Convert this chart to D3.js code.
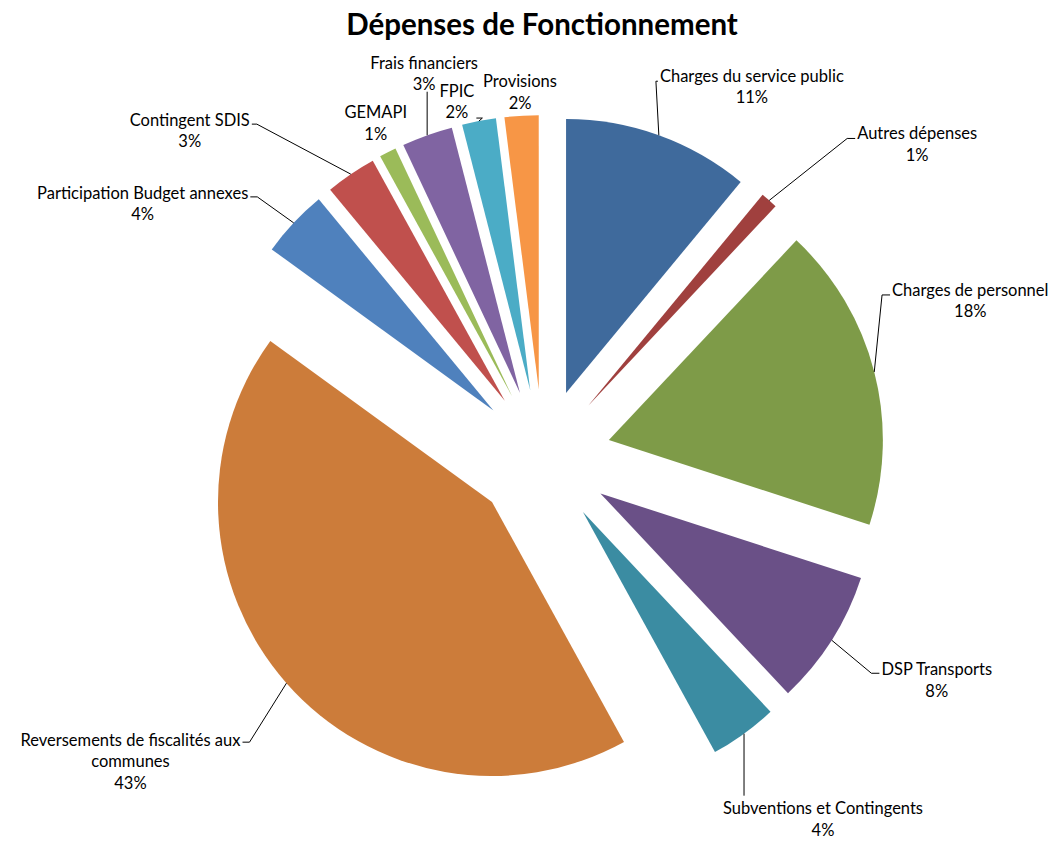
<!DOCTYPE html>
<html>
<head>
<meta charset="utf-8">
<script src="https://cdn.jsdelivr.net/npm/d3@7"></script>
<style>
  body { margin: 0; background: #ffffff; }
  svg { display: block; }
  text { font-family: Lato, "Liberation Sans", sans-serif; fill: #000; }
</style>
</head>
<body>
<svg id="chart" width="1052" height="841"></svg>
<script>
// Budget de fonctionnement : répartition des dépenses (en %)
const categories = [
  "Charges du service public",
  "Autres dépenses",
  "Charges de personnel",
  "DSP Transports",
  "Subventions et Contingents",
  "Reversements de fiscalités aux communes",
  "Participation Budget annexes",
  "Contingent SDIS",
  "GEMAPI",
  "Frais financiers",
  "FPIC",
  "Provisions"
];
const shares = [11, 1, 18, 8, 4, 43, 4, 3, 1, 3, 2, 2];
const sliceColors = [
  "#3F6A9C", "#A0403E", "#7E9B48", "#6A5087", "#3B8CA2", "#CC7C3A",
  "#4F81BD", "#C0504D", "#9BBB59", "#8064A2", "#4BACC6", "#F79646"
];
const chartTitle = "Dépenses de Fonctionnement";

// Label placement: offset of the first text line from the leader anchor on the arc,
// and how the leader line reaches the label box.
const labelLayout = [
  { dx: 93,   dy: -59, side: "left",  hook: 2, hy: 5 },
  { dx: 148,  dy: -67, side: "left",  hook: 8, hy: 5 },
  { dx: 96,   dy: -82, side: "left",  hook: 8, hy: 5 },
  { dx: 105,  dy: 29,  side: "left",  hook: 8, hy: 4 },
  { dx: 79,   dy: 75,  side: "down" },
  { dx: -156, dy: 57,  side: "right", hook: 7, hy: 2 },
  { dx: -151, dy: -30, side: "right", hook: 7, hy: 4 },
  { dx: -161, dy: -54, side: "right", hook: 5, hy: 4 },
  { dx: -12,  dy: -40, side: "none" },
  { dx: -3,   dy: -72, side: "up" },
  { dx: -22,  dy: -30, side: "right", hook: 6, hy: 27 },
  { dx: -1.5, dy: -34, side: "none" }
];

const W = 1052, H = 841;
const cx = 543, cy = 457;        // pie centre
const radius = 274;
const explode = 68;               // every slice pulled out along its bisector
const fontSize = 16.5;
const lineGap = 21.5;
const wrapWidth = 250;

const svg = d3.select("#chart");

svg.append("text")
  .attr("x", 542)
  .attr("y", 35)
  .attr("text-anchor", "middle")
  .style("font-size", "29.5px")
  .style("font-weight", "bold")
  .text(chartTitle);

const data = categories.map((name, i) => ({ name, value: shares[i], color: sliceColors[i], layout: labelLayout[i] }));

const pie = d3.pie().sort(null).value(d => d.value).startAngle(0).endAngle(2 * Math.PI);
const arcs = pie(data);
const arc = d3.arc().innerRadius(0).outerRadius(radius);

const dir = a => [Math.sin(a), -Math.cos(a)];

const slices = svg.append("g").attr("transform", `translate(${cx},${cy})`);
slices.selectAll("path")
  .data(arcs)
  .join("path")
  .attr("transform", d => {
    const m = (d.startAngle + d.endAngle) / 2;
    const [ux, uy] = dir(m);
    return `translate(${ux * explode},${uy * explode})`;
  })
  .attr("d", arc)
  .attr("fill", d => d.data.color);

const pct = d3.format(".0%");
const measure = svg.append("text").style("font-size", fontSize + "px").attr("visibility", "hidden");
const textWidth = s => { measure.text(s); return measure.node().getComputedTextLength(); };

function wrapLines(name) {
  const words = name.split(" ");
  const lines = [];
  let cur = "";
  words.forEach(w => {
    const trial = cur ? cur + " " + w : w;
    if (cur && textWidth(trial) > wrapWidth) { lines.push(cur); cur = w; }
    else cur = trial;
  });
  if (cur) lines.push(cur);
  return lines;
}

const labels = svg.append("g");
const leaders = svg.append("g").attr("fill", "none").attr("stroke", "#000").attr("stroke-width", 1);

arcs.forEach(d => {
  const m = (d.startAngle + d.endAngle) / 2;
  const [ux, uy] = dir(m);
  const ax = cx + ux * (radius + explode);
  const ay = cy + uy * (radius + explode);
  const L = d.data.layout;
  const lx = ax + L.dx, ly = ay + L.dy;
  const lines = wrapLines(d.data.name).concat([pct(d.data.value / 100)]);
  const boxW = d3.max(lines, textWidth);

  const t = labels.append("text")
    .attr("text-anchor", "middle")
    .style("font-size", fontSize + "px");
  lines.forEach((s, k) => {
    t.append("tspan").attr("x", lx).attr("y", ly + k * lineGap + fontSize * 0.35).text(s);
  });

  const gap = 2;
  let pts = null;
  if (L.side === "left") {
    const left = lx - boxW / 2;
    pts = [[ax, ay], [left - gap - L.hook, ly + L.hy], [left - gap, ly + L.hy]];
  } else if (L.side === "right") {
    const right = lx + boxW / 2;
    pts = [[ax, ay], [right + gap + L.hook, ly + L.hy], [right + gap, ly + L.hy]];
  } else if (L.side === "down") {
    pts = [[ax, ay], [ax, ly - 13]];
  } else if (L.side === "up") {
    pts = [[ax, ay], [ax, ly + (lines.length - 1) * lineGap + 7]];
  }
  if (pts) leaders.append("path").attr("d", d3.line()(pts));
});
measure.remove();
</script>
</body>
</html>
